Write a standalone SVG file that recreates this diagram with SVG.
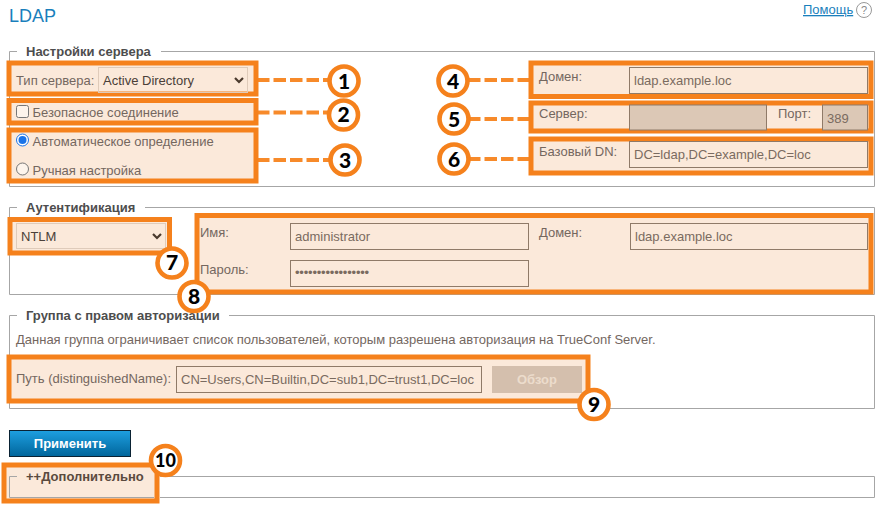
<svg xmlns="http://www.w3.org/2000/svg" width="883" height="514" viewBox="0 0 883 514">
<defs>
<style>
text{font-family:"Liberation Sans",Arial,sans-serif;font-size:13px;fill:#74675f}
.fs{fill:none;stroke:#a6a6a6;stroke-width:1}
.leg{font-weight:bold;fill:#4d4d4d}
.hl{fill:#fbe9da;stroke:#f5811c;stroke-width:5}
.inp{fill:none;stroke:#8f7a68;stroke-width:1}
.dis{fill:#dcc8b6;stroke:#8f7a68;stroke-width:1}
.val{fill:#7a6b60}
.sel{fill:none;stroke:#dfcbba;stroke-width:1}
.chev{fill:none;stroke:#4a3a2e;stroke-width:2.200}
.conn{fill:none;stroke:#f78a2a;stroke-width:4;stroke-dasharray:12.500 4}
.badge{fill:#fff;stroke:#f5811c;stroke-width:4.600}
.num{font-family:"Lato","Noto Sans",sans-serif;font-size:21px;font-weight:900;fill:#000;text-anchor:middle}
</style>
<linearGradient id="btn" x1="0" y1="0" x2="0" y2="1"><stop offset="0" stop-color="#1e9fe0"/><stop offset="1" stop-color="#00659b"/></linearGradient>
</defs>
<rect width="883" height="514" fill="#fff"/>
<g id="header">
<text x="9" y="22" style="font-size:18px;fill:#1a7fbc">LDAP</text>
<text x="803" y="14" style="fill:#1a7fbc;text-decoration:underline">Помощь</text>
<circle cx="864" cy="10" r="7.500" fill="none" stroke="#999"/>
<text x="864" y="14" text-anchor="middle" style="font-size:11px;fill:#888">?</text>
</g>
<g id="fieldsets">
<path class="fs" d="M17 51.500H9.500V186.500H874.500V51.500H161"/>
<text class="leg" x="26" y="56">Настройки сервера</text>
<path class="fs" d="M17 207.500H9.500V294.500H874.500V207.500H145"/>
<text class="leg" x="26" y="212">Аутентификация</text>
<path class="fs" d="M17 315.500H9.500V408.500H874.500V315.500H229"/>
<text class="leg" x="26" y="320">Группа с правом авторизации</text>
<text x="16" y="344">Данная группа ограничивает список пользователей, которым разрешена авторизация на TrueConf Server.</text>
<path class="fs" d="M160 476.500H874.500V497.500H160"/>
</g>
<g id="connectors">
<path class="conn" d="M257 80H330"/>
<path class="conn" d="M257 112.500H330"/>
<path class="conn" d="M257 160H330"/>
<path class="conn" d="M468 80H530"/>
<path class="conn" d="M468 119H530"/>
<path class="conn" d="M468 159H530"/>
</g>
<g id="box1">
<rect class="hl" x="9" y="63" width="247" height="31"/>
<text x="16" y="85">Тип сервера:</text>
<rect class="sel" x="98.500" y="67.500" width="149" height="25"/>
<text x="103" y="85" style="fill:#4a3f38">Active Directory</text>
<path class="chev" d="M235 78l4 4 4-4"/>
</g>
<g id="box2">
<rect class="hl" x="9" y="100.500" width="247" height="22.500"/>
<rect x="16.500" y="105.500" width="12" height="12" rx="2" fill="#fdf4ec" stroke="#777"/>
<text x="32.500" y="117">Безопасное соединение</text>
</g>
<g id="box3">
<rect class="hl" x="9" y="130" width="247" height="51"/>
<circle cx="22.500" cy="140" r="6" fill="#fff" stroke="#1a73e8" stroke-width="1"/>
<circle cx="22.500" cy="140" r="4" fill="#1a73e8"/>
<text x="32.500" y="146">Автоматическое определение</text>
<circle cx="22.500" cy="169" r="6" fill="#fdf4ec" stroke="#777"/>
<text x="32.500" y="175">Ручная настройка</text>
</g>
<g id="box4">
<rect class="hl" x="531" y="63" width="340" height="33.500"/>
<text x="539" y="81">Домен:</text>
<rect class="inp" x="629.500" y="67.500" width="238" height="26"/>
<text class="val" x="634" y="85">ldap.example.loc</text>
</g>
<g id="box5">
<rect class="hl" x="531" y="103" width="340" height="28"/>
<text x="539" y="118">Сервер:</text>
<rect class="dis" x="629.500" y="105" width="137" height="25"/>
<text x="778" y="118">Порт:</text>
<rect class="dis" x="822.500" y="105" width="45" height="25"/>
<text class="val" x="827" y="123">389</text>
</g>
<g id="box6">
<rect class="hl" x="531" y="139" width="340" height="34"/>
<text x="539" y="156">Базовый DN:</text>
<rect class="inp" x="629.500" y="141.500" width="238" height="26"/>
<text class="val" x="634" y="159">DC=ldap,DC=example,DC=loc</text>
</g>
<g id="box7">
<rect class="hl" x="10" y="219.500" width="159.500" height="33.500"/>
<rect class="sel" x="16.500" y="223.500" width="149" height="25"/>
<text x="21" y="241" style="fill:#4a3f38">NTLM</text>
<path class="chev" d="M153 234l4 4 4-4"/>
</g>
<g id="box8">
<rect class="hl" x="197" y="215.500" width="674" height="76.500"/>
<text x="200" y="237">Имя:</text>
<rect class="inp" x="290.500" y="223.500" width="238" height="26"/>
<text class="val" x="295" y="241">administrator</text>
<text x="200" y="274">Пароль:</text>
<rect class="inp" x="290.500" y="260.500" width="238" height="26"/>
<text class="val" x="295" y="277" style="letter-spacing:-.2px">•••••••••••••••••</text>
<text x="539" y="237">Домен:</text>
<rect class="inp" x="630.500" y="223.500" width="237" height="26"/>
<text class="val" x="635" y="241">ldap.example.loc</text>
</g>
<g id="box9">
<rect class="hl" x="9" y="357" width="579" height="44"/>
<text x="16" y="383">Путь (distinguishedName):</text>
<rect class="inp" x="176.500" y="366.500" width="305" height="26"/>
<text class="val" x="181" y="384">CN=Users,CN=Builtin,DC=sub1,DC=trust1,DC=loc</text>
<rect x="492" y="366" width="90" height="27" fill="#d4bfad"/>
<text x="537" y="384" text-anchor="middle" style="font-weight:bold;fill:#ecdccc">Обзор</text>
</g>
<g id="apply">
<rect x="9.500" y="430.500" width="121" height="26" fill="url(#btn)" stroke="#0a2233"/>
<text x="70" y="448" text-anchor="middle" style="font-weight:bold;fill:#fff">Применить</text>
</g>
<g id="box10">
<rect class="hl" x="4" y="465" width="153" height="36"/>
<path class="fs" d="M17 476.500H9.500V497.500H154"/>
<text class="leg" x="26" y="481" style="fill:#5a4a3e">++Дополнительно</text>
</g>
<g id="badge1"><circle class="badge" cx="344" cy="81" r="14.500"/><text class="num" x="344" y="88.500">1</text></g>
<g id="badge2"><circle class="badge" cx="343.500" cy="115" r="14.500"/><text class="num" x="343.500" y="121.500">2</text></g>
<g id="badge3"><circle class="badge" cx="345" cy="160" r="14.500"/><text class="num" x="345" y="167.500">3</text></g>
<g id="badge4"><circle class="badge" cx="453" cy="81" r="14.500"/><text class="num" x="453" y="88.500">4</text></g>
<g id="badge5"><circle class="badge" cx="454" cy="119" r="14.500"/><text class="num" x="454" y="126.500">5</text></g>
<g id="badge6"><circle class="badge" cx="454" cy="159" r="14.500"/><text class="num" x="454" y="166.500">6</text></g>
<g id="badge7"><circle class="badge" cx="172" cy="263" r="14.500"/><text class="num" x="172" y="270">7</text></g>
<g id="badge8"><circle class="badge" cx="194" cy="296.500" r="14.500"/><text class="num" x="194" y="304">8</text></g>
<g id="badge9"><circle class="badge" cx="594" cy="404.500" r="14.500"/><text class="num" x="594" y="412">9</text></g>
<g id="badge10"><circle class="badge" cx="165.500" cy="460.500" r="14.500"/><text class="num" x="165.500" y="467" style="font-size:18px">10</text></g>
</svg>
